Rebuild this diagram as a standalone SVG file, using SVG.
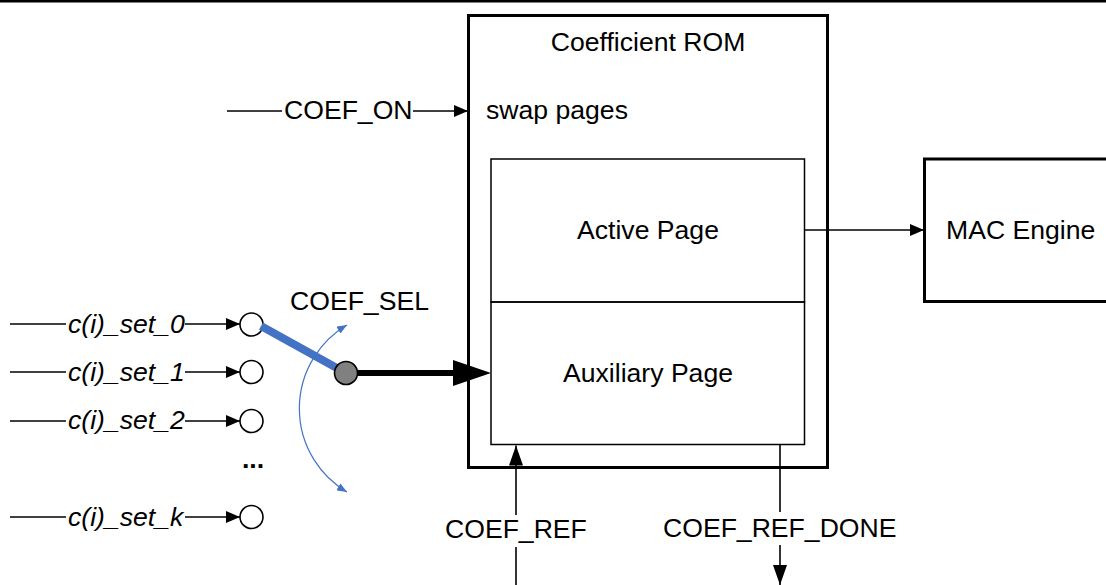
<svg xmlns="http://www.w3.org/2000/svg" width="1106" height="585" viewBox="0 0 1106 585">
<style>
  text { font-family: "Liberation Sans", Arial, sans-serif; font-size: 26.6px; fill: #000; }
  .it { font-style: italic; }
  .box { fill: #fff; stroke: #000; stroke-width: 3; }
  .inner { fill: none; stroke: #000; stroke-width: 1.5; }
  .ln { stroke: #000; stroke-width: 1.6; fill: none; }
  .port { fill: #fff; stroke: #000; stroke-width: 1.6; }
</style>
<defs>
  <marker id="ah" markerWidth="14" markerHeight="12" refX="14" refY="6" orient="auto-start-reverse" markerUnits="userSpaceOnUse">
    <path d="M0,0 L14,6 L0,12 Z" fill="#000"/>
  </marker>
  <marker id="ahL" markerWidth="20" markerHeight="14" refX="20" refY="7" orient="auto-start-reverse" markerUnits="userSpaceOnUse">
    <path d="M0,0 L20,7 L0,14 Z" fill="#000"/>
  </marker>
  <marker id="ahB" markerWidth="10" markerHeight="8" refX="10" refY="4" orient="auto-start-reverse" markerUnits="userSpaceOnUse">
    <path d="M0,0 L10,4 L0,8 Z" fill="#4472C4"/>
  </marker>
</defs>
<rect x="0" y="0" width="1106" height="2.5" fill="#000"/>

<g id="rom">
  <rect class="box" x="468.5" y="15.5" width="359" height="452"/>
  <text x="648" y="51" text-anchor="middle">Coefficient ROM</text>
  <text x="486" y="119">swap pages</text>
</g>
<g id="active-page">
  <rect class="inner" x="491" y="159" width="313.5" height="143"/>
  <text x="648" y="239" text-anchor="middle">Active Page</text>
</g>
<g id="aux-page">
  <rect class="inner" x="491" y="302" width="313.5" height="142.5"/>
  <text x="648" y="382" text-anchor="middle">Auxiliary Page</text>
</g>
<g id="mac">
  <rect class="box" x="924.5" y="159" width="200" height="142.5"/>
  <text x="946" y="239">MAC Engine</text>
</g>

<g id="inputs">
  <text class="it" x="68" y="333">c(i)_set_0</text>
  <text class="it" x="68" y="381">c(i)_set_1</text>
  <text class="it" x="68" y="429">c(i)_set_2</text>
  <text class="it" x="68" y="526">c(i)_set_k</text>
  <text x="253" y="468" text-anchor="middle" font-weight="bold">...</text>
  <circle class="port" cx="251.5" cy="324.5" r="11.5"/>
  <circle class="port" cx="251.5" cy="372" r="11.5"/>
  <circle class="port" cx="251.5" cy="421" r="11.5"/>
  <circle class="port" cx="251.5" cy="517" r="11.5"/>
</g>

<g id="connectors">
  <line class="ln" x1="10" y1="324" x2="66" y2="324"/>
  <line class="ln" x1="185" y1="324" x2="240" y2="324" marker-end="url(#ah)"/>
  <line class="ln" x1="10" y1="372" x2="66" y2="372"/>
  <line class="ln" x1="185" y1="372" x2="240" y2="372" marker-end="url(#ah)"/>
  <line class="ln" x1="10" y1="421" x2="66" y2="421"/>
  <line class="ln" x1="185" y1="421" x2="240" y2="421" marker-end="url(#ah)"/>
  <line class="ln" x1="10" y1="517" x2="66" y2="517"/>
  <line class="ln" x1="185" y1="517" x2="240" y2="517" marker-end="url(#ah)"/>

  <line class="ln" x1="227" y1="111" x2="282" y2="111"/>
  <line class="ln" x1="413" y1="111" x2="468" y2="111" marker-end="url(#ah)"/>
  <text x="284" y="119">COEF_ON</text>

  <line class="ln" x1="804.5" y1="230" x2="924" y2="230" marker-end="url(#ah)"/>

  <line class="ln" x1="516" y1="515" x2="516" y2="445.5" marker-end="url(#ahL)"/>
  <line class="ln" x1="516" y1="547" x2="516" y2="585"/>
  <text x="445" y="538">COEF_REF</text>

  <line class="ln" x1="780" y1="445" x2="780" y2="512"/>
  <line class="ln" x1="780" y1="545" x2="780" y2="585" marker-end="url(#ahL)"/>
  <text x="663" y="537">COEF_REF_DONE</text>

  <line x1="261" y1="326" x2="344" y2="372" stroke="#4472C4" stroke-width="8"/>
  <circle cx="346" cy="373" r="11.5" fill="#808080" stroke="#000" stroke-width="1.6"/>
  <line x1="357" y1="373" x2="455" y2="373" stroke="#000" stroke-width="6"/>
  <path d="M453,360 L491,373 L453,386 Z" fill="#000"/>

  <path d="M347,325 A97,97 0 0 0 347,492" fill="none" stroke="#4472C4" stroke-width="1.2" marker-start="url(#ahB)" marker-end="url(#ahB)"/>
  <text x="290" y="310">COEF_SEL</text>
</g>
</svg>
